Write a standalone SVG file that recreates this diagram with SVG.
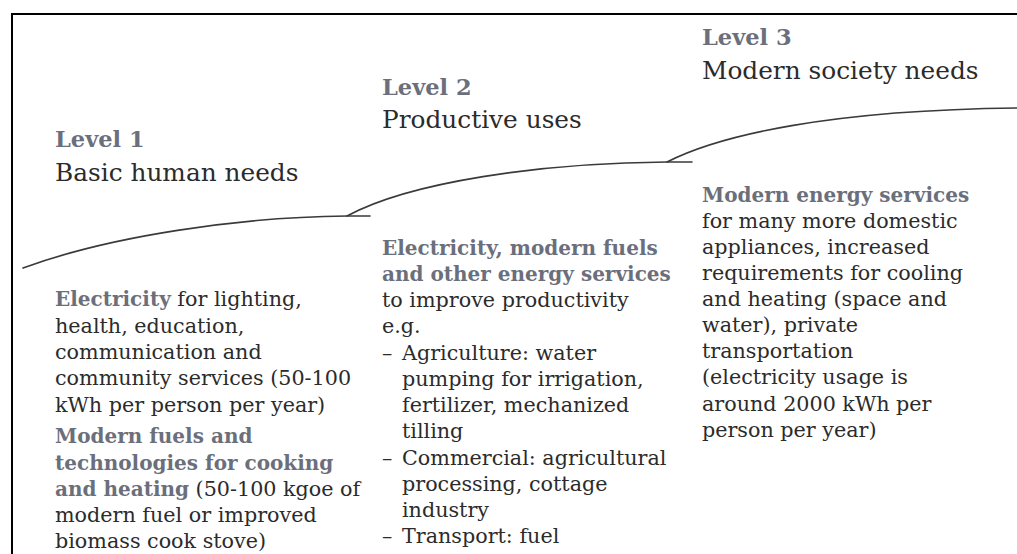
<svg xmlns="http://www.w3.org/2000/svg" width="1017" height="554" viewBox="0 0 1017 554">
<style>
.frame{fill:none;stroke:#000;stroke-width:2}
.curve{fill:none;stroke:#3a3a3a;stroke-width:1.6;stroke-linecap:round}
text{font-family:"DejaVu Serif","Liberation Serif",serif}
.lvl{font-size:22.5px;font-weight:bold;fill:#6b6f7c}
.ttl{font-size:24.8px;fill:#2b2b2b}
.body{font-size:20.7px;fill:#2b2b2b}
.b{font-size:20px;font-weight:bold;fill:#6b6f7c}
</style>
<rect width="1017" height="554" fill="#fff"/>
<path class="frame" d="M12,554 V14 H1017"/>
<g id="connectors">
<path class="curve" d="M23,268 C110,236 240,217 347,216 L370,216"/>
<path class="curve" d="M347,216 C410,182 540,163 667,162 L692,162"/>
<path class="curve" d="M667,162 C720,135 830,110 1017,108"/>
</g>
<g id="level1">
<text class="lvl" x="55" y="147">Level 1</text>
<text class="ttl" x="55" y="181">Basic human needs</text>
<text class="body" x="55" y="306"><tspan class="b">Electricity</tspan> for lighting,</text>
<text class="body" x="55" y="333">health, education,</text>
<text class="body" x="55" y="359">communication and</text>
<text class="body" x="55" y="385">community services (50-100</text>
<text class="body" x="55" y="412">kWh per person per year)</text>
<text class="body b" x="55" y="443">Modern fuels and</text>
<text class="body b" x="55" y="470">technologies for cooking</text>
<text class="body" x="55" y="496"><tspan class="b">and heating</tspan> (50-100 kgoe of</text>
<text class="body" x="55" y="522">modern fuel or improved</text>
<text class="body" x="55" y="548">biomass cook stove)</text>
</g>
<g id="level2">
<text class="lvl" x="382" y="95">Level 2</text>
<text class="ttl" x="382" y="128">Productive uses</text>
<text class="body b" x="382" y="255">Electricity, modern fuels</text>
<text class="body b" x="382" y="281">and other energy services</text>
<text class="body" x="382" y="307">to improve productivity</text>
<text class="body" x="382" y="333">e.g.</text>
<text class="body" x="382" y="360">–</text>
<text class="body" x="402" y="360">Agriculture: water</text>
<text class="body" x="402" y="386">pumping for irrigation,</text>
<text class="body" x="402" y="412">fertilizer, mechanized</text>
<text class="body" x="402" y="438">tilling</text>
<text class="body" x="382" y="465">–</text>
<text class="body" x="402" y="465">Commercial: agricultural</text>
<text class="body" x="402" y="491">processing, cottage</text>
<text class="body" x="402" y="517">industry</text>
<text class="body" x="382" y="543">–</text>
<text class="body" x="402" y="543">Transport: fuel</text>
</g>
<g id="level3">
<text class="lvl" x="702" y="45">Level 3</text>
<text class="ttl" x="702" y="79">Modern society needs</text>
<text class="body b" x="702" y="202">Modern energy services</text>
<text class="body" x="702" y="228">for many more domestic</text>
<text class="body" x="702" y="254">appliances, increased</text>
<text class="body" x="702" y="280">requirements for cooling</text>
<text class="body" x="702" y="306">and heating (space and</text>
<text class="body" x="702" y="332">water), private</text>
<text class="body" x="702" y="358">transportation</text>
<text class="body" x="702" y="384">(electricity usage is</text>
<text class="body" x="702" y="411">around 2000 kWh per</text>
<text class="body" x="702" y="437">person per year)</text>
</g>
</svg>
